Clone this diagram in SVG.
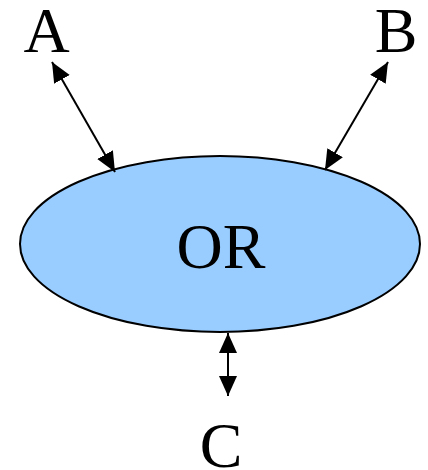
<svg xmlns="http://www.w3.org/2000/svg" width="428" height="470" viewBox="0 0 428 470">
<style>
.lbl{font-family:"Liberation Serif","Times New Roman",serif;font-size:64px;fill:#000;text-anchor:middle}
.conn{stroke:#000;stroke-width:2;fill:none}
</style>
<defs>
<marker id="ah" markerUnits="userSpaceOnUse" viewBox="0 0 20 20" refX="20" refY="10" markerWidth="20" markerHeight="20" orient="auto-start-reverse">
<path d="M0,1 L20,10 L0,19 Z" fill="#000"/>
</marker>
</defs>
<rect width="428" height="470" fill="#fff"/>
<g id="OR">
<ellipse cx="220" cy="244" rx="200" ry="88" fill="#99ccff" stroke="#000" stroke-width="2"/>
<text class="lbl" x="221" y="268">OR</text>
</g>
<g id="A"><text class="lbl" x="46.5" y="52">A</text></g>
<g id="B"><text class="lbl" x="396" y="52">B</text></g>
<g id="C"><text class="lbl" x="221" y="467">C</text></g>
<g id="connectors">
<line class="conn" x1="52" y1="62" x2="115" y2="172" marker-start="url(#ah)" marker-end="url(#ah)"/>
<line class="conn" x1="388" y1="62" x2="325" y2="170" marker-start="url(#ah)" marker-end="url(#ah)"/>
<line class="conn" x1="228" y1="333" x2="228" y2="396" marker-start="url(#ah)" marker-end="url(#ah)"/>
</g>
</svg>
